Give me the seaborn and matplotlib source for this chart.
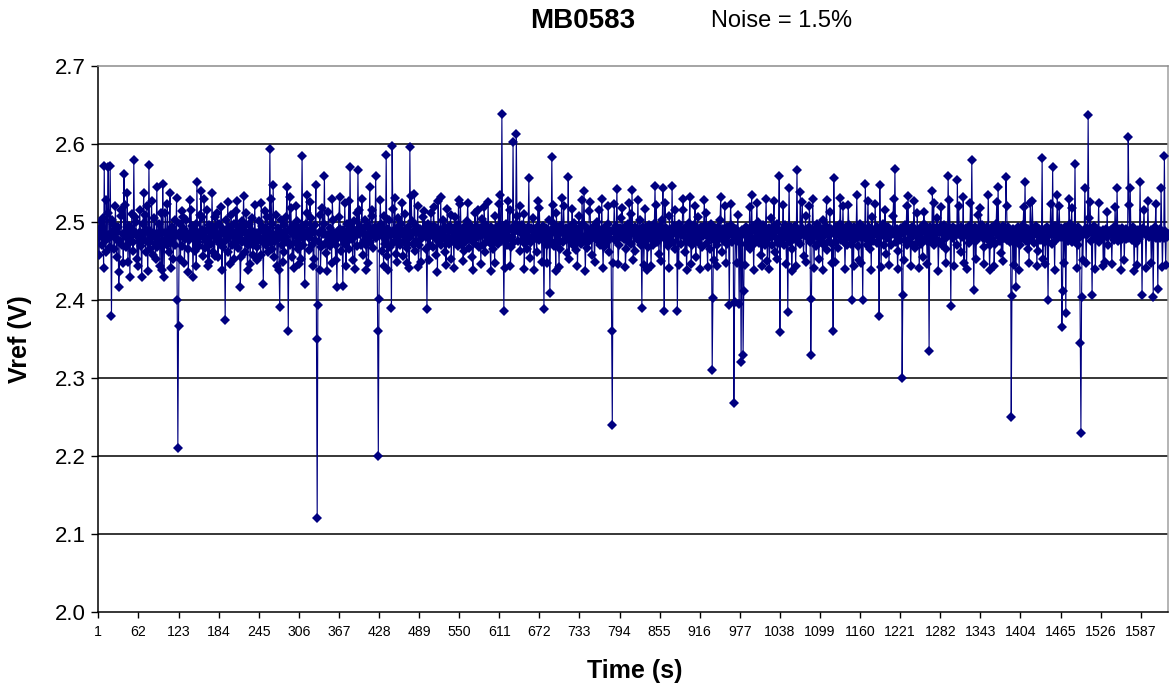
import matplotlib
matplotlib.use("Agg")
import matplotlib.pyplot as plt
import seaborn as sns
import numpy as np
import pandas as pd

# Vref readings, in millivolts above 2 V, one per second
vref_mv = [
487,458,483,492,501,470,481,505,441,572,476,462,528,483,512,571,480,468,572,486,
379,503,489,497,466,481,520,478,455,487,493,417,436,476,508,515,471,485,447,562,
484,522,468,479,537,449,473,495,430,488,482,510,475,463,580,489,506,500,484,452,
481,444,476,515,487,469,430,483,498,537,477,509,462,490,521,437,474,573,488,466,
479,527,483,458,486,505,472,452,481,545,468,483,497,476,443,488,512,438,549,473,
430,486,511,478,470,523,484,461,489,537,441,475,494,479,453,487,502,471,485,531,
400,210,367,482,497,453,488,514,469,507,491,447,478,486,503,481,466,436,477,528,
484,516,489,495,430,480,487,463,498,444,551,475,486,469,509,481,540,506,490,456,
483,530,478,467,488,516,474,443,496,449,481,489,472,537,484,461,493,457,506,486,
477,511,455,483,498,472,486,519,438,468,491,484,476,375,489,503,478,526,462,494,
482,446,509,488,470,484,497,452,481,514,476,527,485,467,493,480,417,455,501,474,
489,533,493,461,484,512,476,439,471,497,483,446,490,479,505,458,470,481,522,475,
486,451,468,480,501,477,489,458,524,495,474,421,488,482,514,470,491,507,462,487,
480,594,473,529,498,465,547,482,455,476,509,484,444,478,492,438,391,487,503,470,
485,449,496,462,489,481,507,545,474,360,490,532,471,518,486,455,492,441,484,497,
473,521,481,501,466,490,446,485,452,493,584,480,470,487,420,483,498,535,511,489,
479,464,526,484,505,471,488,443,452,496,477,547,350,120,393,486,474,509,439,468,
490,518,485,497,559,472,483,460,437,476,513,484,469,492,481,448,529,503,475,486,
482,451,471,417,488,480,506,532,491,463,485,479,418,490,483,525,472,443,497,480,
476,527,465,571,482,493,478,451,486,501,440,488,483,512,469,567,485,516,494,471,
487,530,458,491,476,503,484,470,439,496,480,447,485,545,474,490,508,516,467,488,
483,494,559,479,486,360,200,401,488,528,497,482,463,490,444,508,472,486,586,456,
491,438,485,502,468,483,390,597,517,489,474,531,486,459,492,449,505,476,488,470,
484,497,525,456,488,482,510,473,490,447,467,493,480,441,596,486,533,501,484,472,
489,536,463,495,476,487,520,442,470,491,484,449,486,479,506,488,514,493,481,465,
388,485,498,451,489,471,512,483,490,468,519,495,479,483,458,492,436,527,475,487,
482,532,470,486,503,479,488,461,493,445,476,517,481,489,472,495,509,452,488,478,
490,441,507,473,486,481,496,469,528,492,478,523,485,471,489,450,463,494,482,487,
476,501,524,490,467,483,479,495,488,455,438,491,473,512,486,480,493,515,488,468,
485,492,446,504,483,470,489,519,497,461,482,488,476,526,490,481,473,437,494,479,
487,466,491,448,508,477,485,493,472,523,481,534,476,488,638,495,480,386,487,441,
483,497,470,527,490,479,515,443,468,492,481,603,487,474,489,498,613,508,476,488,
491,520,463,487,484,496,477,510,440,472,490,483,466,488,494,556,479,454,475,492,
481,488,505,439,486,491,479,462,493,527,477,518,486,480,489,449,495,484,389,487,
478,492,447,470,488,503,481,409,490,476,583,486,522,497,469,488,437,512,474,491,
484,442,495,466,487,531,490,474,521,485,478,492,483,460,488,558,452,494,476,486,
490,517,471,487,499,479,485,464,491,444,476,508,488,480,493,472,528,481,497,540,
478,437,483,467,492,485,476,514,526,490,479,458,487,494,481,449,489,484,500,477,
486,492,515,471,488,483,529,476,441,485,468,493,481,487,475,498,521,462,489,480,
487,360,240,448,491,523,477,488,495,542,479,446,470,492,484,481,505,518,489,483,
478,493,442,466,489,481,497,475,524,483,510,472,541,490,451,487,463,494,485,479,
491,528,476,488,502,481,470,390,487,493,445,485,517,476,490,439,468,489,496,480,
485,443,492,483,471,489,498,546,480,522,474,491,483,459,488,495,450,486,503,544,
481,386,525,492,477,485,469,490,441,508,476,489,482,546,474,487,495,516,466,491,
484,386,489,445,497,486,472,491,483,515,530,488,481,462,493,438,476,490,482,499,
532,480,446,471,492,484,478,496,521,455,489,481,506,474,490,485,440,493,468,487,
482,495,528,489,484,512,473,442,491,480,466,486,497,479,310,402,487,451,492,476,
489,444,470,494,485,478,503,532,482,461,491,484,476,520,488,448,493,472,486,483,
393,487,523,496,475,489,484,268,398,482,491,447,488,509,480,395,486,473,320,490,
485,330,412,488,445,494,482,470,487,491,476,519,466,489,534,480,495,439,472,488,
481,493,525,486,500,473,489,483,458,491,443,477,496,482,470,488,530,479,450,484,
492,440,488,481,505,470,487,494,527,462,489,480,497,452,473,490,559,359,486,482,
477,491,522,470,488,496,482,446,490,384,486,544,481,474,493,437,466,489,484,478,
495,443,488,567,476,490,481,472,538,486,492,526,485,457,489,483,508,449,490,484,
480,493,521,474,330,401,489,530,482,441,491,485,469,488,497,481,452,473,492,483,
478,490,438,502,471,488,483,495,528,464,489,486,476,513,484,491,447,472,360,557,
486,449,493,475,488,484,467,490,498,531,477,489,485,520,474,491,440,480,494,471,
488,522,496,479,485,472,490,400,487,444,493,478,486,491,534,480,469,451,484,497,
481,448,489,400,486,492,480,549,483,471,490,527,478,494,466,488,439,506,476,489,
484,491,523,487,473,493,482,488,380,547,485,442,490,483,497,470,487,516,459,492,
480,486,494,445,489,483,471,490,485,508,529,488,568,482,474,491,440,463,489,483,
477,492,485,300,407,488,451,496,476,489,520,470,533,487,491,480,443,473,494,482,
488,527,491,467,486,483,512,475,490,441,481,494,472,488,455,489,513,497,478,486,
491,446,487,474,335,482,493,486,479,540,488,524,470,492,485,477,505,489,437,476,
487,493,519,471,489,484,496,478,490,448,465,488,481,559,486,528,492,392,485,489,
480,494,443,488,483,491,470,554,485,521,490,487,462,493,481,486,532,447,489,484,
492,440,486,481,495,473,488,525,490,580,479,487,413,484,493,452,476,489,485,509,
481,490,518,487,483,496,479,446,468,491,484,480,493,477,535,486,438,470,489,494,
478,486,491,444,472,488,497,526,485,545,481,489,476,492,460,487,450,495,479,486,
488,558,521,477,493,486,480,474,489,250,405,485,491,445,476,488,417,490,484,479,
493,439,487,470,490,484,479,496,519,488,551,476,489,483,466,491,448,480,525,487,
482,527,492,486,473,489,484,495,443,487,463,491,483,477,490,486,582,452,488,474,
491,446,480,493,476,400,488,483,490,523,486,472,570,484,489,438,495,477,487,535,
483,490,520,486,492,481,365,412,488,447,479,493,383,487,481,490,476,530,497,482,
488,518,475,491,484,487,574,479,489,441,493,471,486,481,345,230,404,487,451,490,
485,543,489,447,492,483,637,505,487,526,490,476,406,488,484,495,479,440,482,491,
480,487,524,474,489,483,486,479,490,443,488,449,485,491,481,513,470,489,483,486,
484,490,446,486,482,493,477,519,485,481,543,488,476,491,483,487,439,492,478,486,
489,451,486,478,491,484,480,609,522,483,543,490,477,486,482,493,437,487,484,473,
487,445,490,485,478,551,483,489,406,486,492,516,484,488,441,490,483,527,481,486,
482,490,448,487,484,404,489,481,493,523,479,488,414,486,483,491,480,544,487,442,
485,479,585,488,445,486,481,484,
]

y_ticks = [2.0, 2.1, 2.2, 2.3, 2.4, 2.5, 2.6, 2.7]
x_tick_labels = [1, 62, 123, 184, 245, 306, 367, 428, 489, 550, 611, 672, 733,
                 794, 855, 916, 977, 1038, 1099, 1160, 1221, 1282, 1343, 1404,
                 1465, 1526, 1587]
title = "MB0583"
note = "Noise = 1.5%"

seconds = np.arange(1, len(vref_mv) + 1)
vref = np.array(vref_mv) / 1000.0 + 2.0
df = pd.DataFrame({"Time": seconds, "Vref": vref})

sns.set_theme(style="white")
plt.rcParams["font.family"] = ["Liberation Sans", "DejaVu Sans"]
plt.rcParams["text.color"] = "black"
plt.rcParams["xtick.color"] = "black"
plt.rcParams["ytick.color"] = "black"
plt.rcParams["axes.labelcolor"] = "black"

W, H = 1171, 691
fig = plt.figure(figsize=(W / 100, H / 100), dpi=100)
fig.patch.set_facecolor("white")
ax = fig.add_axes([98 / W, 1 - 612 / H, 1070 / W, 546 / H])
ax.set_facecolor("white")

navy = "#000080"
sns.lineplot(data=df, x="Time", y="Vref", ax=ax, color=navy, linewidth=0.8,
             marker="D", markersize=5.0, markeredgewidth=0, sort=False,
             estimator=None, zorder=3)

ax.set_xlim(0.5, len(vref_mv) + 0.5)
ax.set_ylim(2.0, 2.7)
ax.set_yticks(y_ticks)
ax.set_yticklabels([f"{v:.1f}" for v in y_ticks], fontsize=16, color="black")
ax.set_xticks(x_tick_labels)
ax.set_xticklabels([str(v) for v in x_tick_labels], fontsize=10.2, color="black")
ax.tick_params(axis="y", direction="out", length=5, width=1, color="black", pad=4,
               left=True)
ax.tick_params(axis="x", direction="out", length=4, width=1, color="black", pad=5,
               bottom=True)
for v in y_ticks[1:-1]:
    ax.axhline(v, color="black", linewidth=1.1, zorder=1)
ax.grid(False)

ax.spines["left"].set_color("black")
ax.spines["bottom"].set_color("black")
ax.spines["left"].set_linewidth(1.1)
ax.spines["bottom"].set_linewidth(1.1)
ax.spines["top"].set_color("#8c8c8c")
ax.spines["right"].set_color("#a0a0a0")
ax.spines["top"].set_linewidth(1.1)
ax.spines["right"].set_linewidth(1.1)
ax.set_xlabel("")
ax.set_ylabel("")

fig.text(583 / W, 1 - 21 / H, title, fontsize=20, fontweight="bold",
         ha="center", va="center", color="black")
fig.text(782 / W, 1 - 21 / H, note, fontsize=17, ha="center", va="center",
         color="black")
fig.text(635 / W, 1 - 671 / H, "Time (s)", fontsize=18, fontweight="bold",
         ha="center", va="center", color="black")
fig.text(20 / W, 1 - 339 / H, "Vref (V)", fontsize=18, fontweight="bold",
         ha="center", va="center", rotation=90, color="black")

fig.savefig("out.png", dpi=100, facecolor="white")
